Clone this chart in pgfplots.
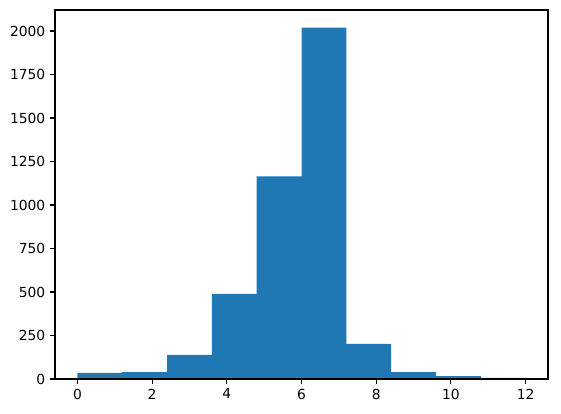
\documentclass[border=0pt]{standalone}
\usepackage{pgfplots}
\pgfplotsset{compat=1.18}
\usepackage{fontspec}
\setmainfont{DejaVu Sans}
\definecolor{mplblue}{HTML}{1F77B4}
\begin{document}
\begin{tikzpicture}
\useasboundingbox (-0.55in,-0.34in) rectangle (5.06in,3.79in);
\begin{axis}[
  scale only axis,
  width=4.93in, height=3.69in,
  xmin=-0.6, xmax=12.6,
  ymin=0, ymax=2121,
  xtick={0,2,...,12},
  ytick={0,250,...,2000},
  tick align=outside,
  xtick pos=bottom, ytick pos=left,
  major tick length=3.5pt,
  axis on top,
  axis line style={line width=0.8pt},
  every tick/.style={black, line width=0.8pt},
  tick label style={font=\fontsize{10}{12}\selectfont},
  /pgf/number format/assume math mode=true,
  /pgf/number format/1000 sep={},
  scaled y ticks=false,
]
\addplot[ybar interval, fill=mplblue, draw=none] coordinates {
  (0,35)(1.2,40)(2.4,138)(3.6,490)(4.8,1165)(6,2020)(7.2,202)(8.4,40)(9.6,17)(10.8,6)(12,6)
};
\end{axis}
\end{tikzpicture}
\end{document}
